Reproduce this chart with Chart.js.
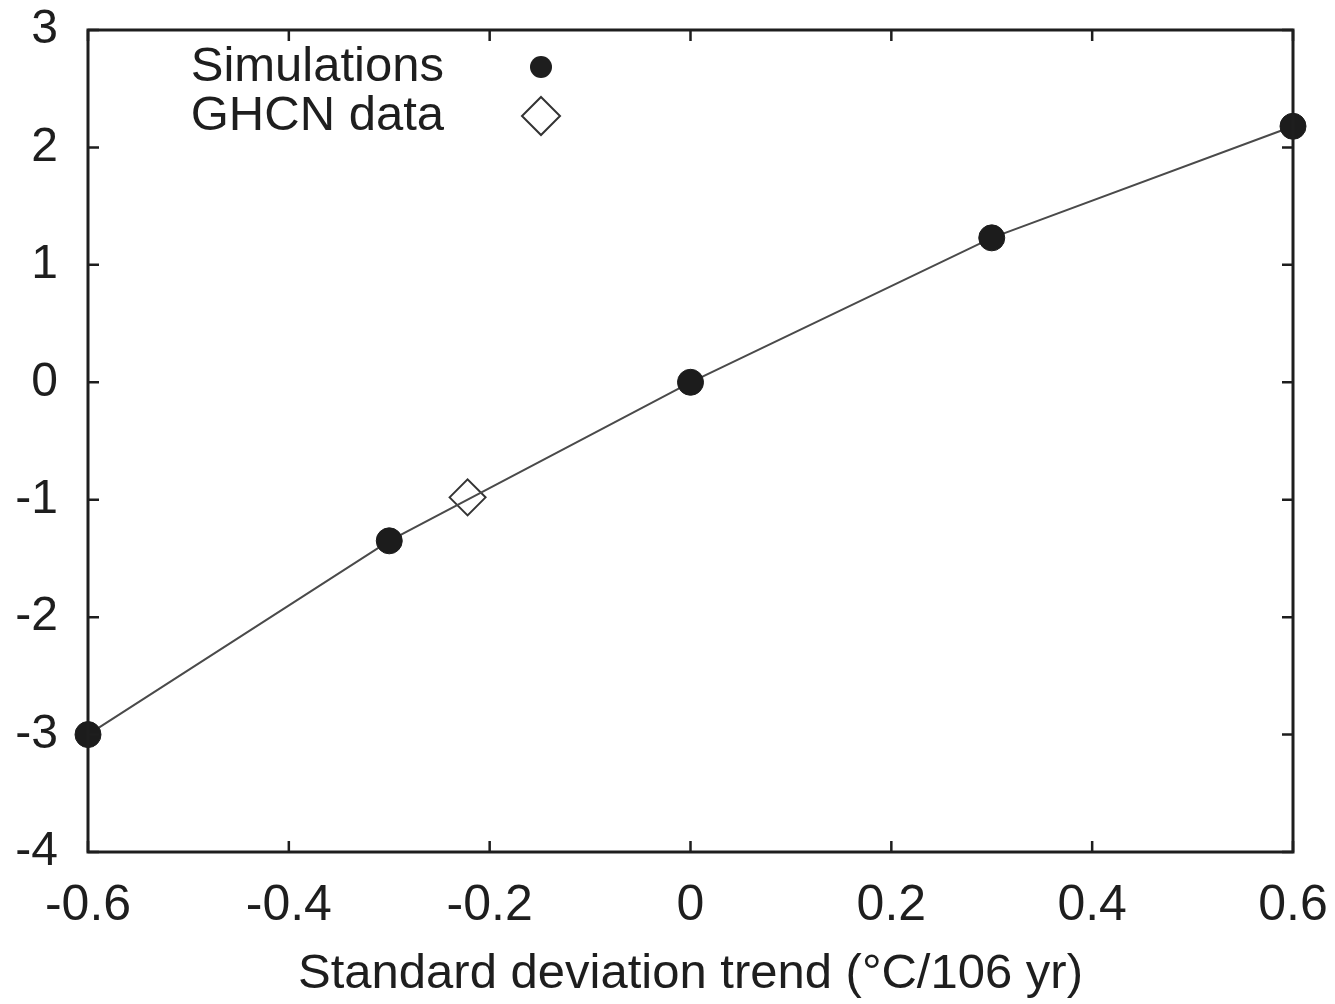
<!DOCTYPE html>
<html>
<head>
<meta charset="utf-8">
<script src="https://cdn.jsdelivr.net/npm/chart.js@4.4.1/dist/chart.umd.min.js"></script>
<style>
  html, body { margin: 0; padding: 0; background: #fff; }
  #wrap { width: 1335px; height: 1004px; }
</style>
</head>
<body>
<div id="wrap"><canvas id="c" width="1335" height="1004"></canvas></div>
<script>
// ---- data ----
const simX = [-0.6, -0.3, 0, 0.3, 0.6];
const simY = [-3.0, -1.35, 0.0, 1.23, 2.18];
const ghcnX = [-0.222];
const ghcnY = [-0.98];
const xTicks = [-0.6, -0.4, -0.2, 0, 0.2, 0.4, 0.6];
const yTicks = [-4, -3, -2, -1, 0, 1, 2, 3];
const legendLabels = ['Simulations', 'GHCN data'];
const xTitle = 'Standard deviation trend (°C/106 yr)';

const FONT = "'Liberation Sans', Arial, Helvetica, sans-serif";
const INK = '#1e1e1e';

const frameTicks = {
  id: 'frameTicks',
  afterDraw(chart) {
    const { ctx, chartArea: a, scales } = chart;
    ctx.save();
    ctx.strokeStyle = INK;
    ctx.lineWidth = 2.5;
    const L = 11;
    xTicks.forEach(v => {
      const px = scales.x.getPixelForValue(v);
      ctx.beginPath();
      ctx.moveTo(px, a.bottom); ctx.lineTo(px, a.bottom - L);
      ctx.moveTo(px, a.top); ctx.lineTo(px, a.top + L);
      ctx.stroke();
    });
    yTicks.forEach(v => {
      const py = scales.y.getPixelForValue(v);
      ctx.beginPath();
      ctx.moveTo(a.left, py); ctx.lineTo(a.left + L, py);
      ctx.moveTo(a.right, py); ctx.lineTo(a.right - L, py);
      ctx.stroke();
    });
    ctx.lineWidth = 3;
    ctx.strokeRect(a.left, a.top, a.right - a.left, a.bottom - a.top);
    // legend
    ctx.fillStyle = INK;
    ctx.font = '49px ' + FONT;
    ctx.textAlign = 'right';
    ctx.textBaseline = 'middle';
    const lx = a.left + 356, mx = a.left + 453;
    const ly = [a.top + 37, a.top + 86];
    ctx.fillText(legendLabels[0], lx, ly[0]);
    ctx.fillText(legendLabels[1], lx, ly[1]);
    ctx.beginPath();
    ctx.arc(mx, ly[0], 11, 0, Math.PI * 2);
    ctx.fill();
    ctx.beginPath();
    ctx.lineWidth = 2;
    ctx.strokeStyle = '#333';
    ctx.moveTo(mx, ly[1] - 19); ctx.lineTo(mx + 19, ly[1]);
    ctx.lineTo(mx, ly[1] + 19); ctx.lineTo(mx - 19, ly[1]); ctx.closePath();
    ctx.stroke();
    ctx.restore();
  }
};

new Chart(document.getElementById('c'), {
  type: 'scatter',
  data: {
    datasets: [
      {
        label: legendLabels[0],
        data: simX.map((x, i) => ({ x, y: simY[i] })),
        showLine: true,
        borderColor: '#4a4a4a',
        borderWidth: 2,
        pointBackgroundColor: '#1c1c1c',
        pointBorderColor: '#1c1c1c',
        pointBorderWidth: 1,
        pointRadius: 13,
        pointStyle: 'circle',
        clip: false
      },
      {
        label: legendLabels[1],
        data: ghcnX.map((x, i) => ({ x, y: ghcnY[i] })),
        pointStyle: 'rectRot',
        pointRadius: 18,
        pointBackgroundColor: 'rgba(255,255,255,0)',
        pointBorderColor: '#333',
        pointBorderWidth: 2,
        clip: false
      }
    ]
  },
  options: {
    responsive: false,
    animation: false,
    devicePixelRatio: 1,
    layout: { padding: { top: 30, right: 42, left: 0, bottom: 0 } },
    plugins: { legend: { display: false }, tooltip: { enabled: false } },
    scales: {
      x: {
        type: 'linear',
        min: -0.6, max: 0.6,
        afterBuildTicks: s => { s.ticks = xTicks.map(v => ({ value: v })); },
        afterFit: s => { s.height = 152; s.paddingLeft = 0; s.paddingRight = 0; },
        grid: { display: false, drawTicks: false },
        border: { display: false },
        ticks: {
          color: INK,
          font: { family: FONT, size: 50 },
          padding: 24,
          maxRotation: 0,
          autoSkip: false,
          callback: v => String(Math.round(v * 10) / 10)
        },
        title: {
          display: true,
          text: xTitle,
          color: INK,
          font: { family: FONT, size: 49 },
          padding: { top: 0, bottom: 0 }
        }
      },
      y: {
        type: 'linear',
        min: -4, max: 3,
        afterBuildTicks: s => { s.ticks = yTicks.map(v => ({ value: v })); },
        afterFit: s => { s.width = 88; s.paddingTop = 0; s.paddingBottom = 0; },
        grid: { display: false, drawTicks: false },
        border: { display: false },
        ticks: {
          color: INK,
          font: { family: FONT, size: 48 },
          padding: 30,
          autoSkip: false,
          callback: v => String(v)
        }
      }
    }
  },
  plugins: [frameTicks]
});
</script>
</body>
</html>
